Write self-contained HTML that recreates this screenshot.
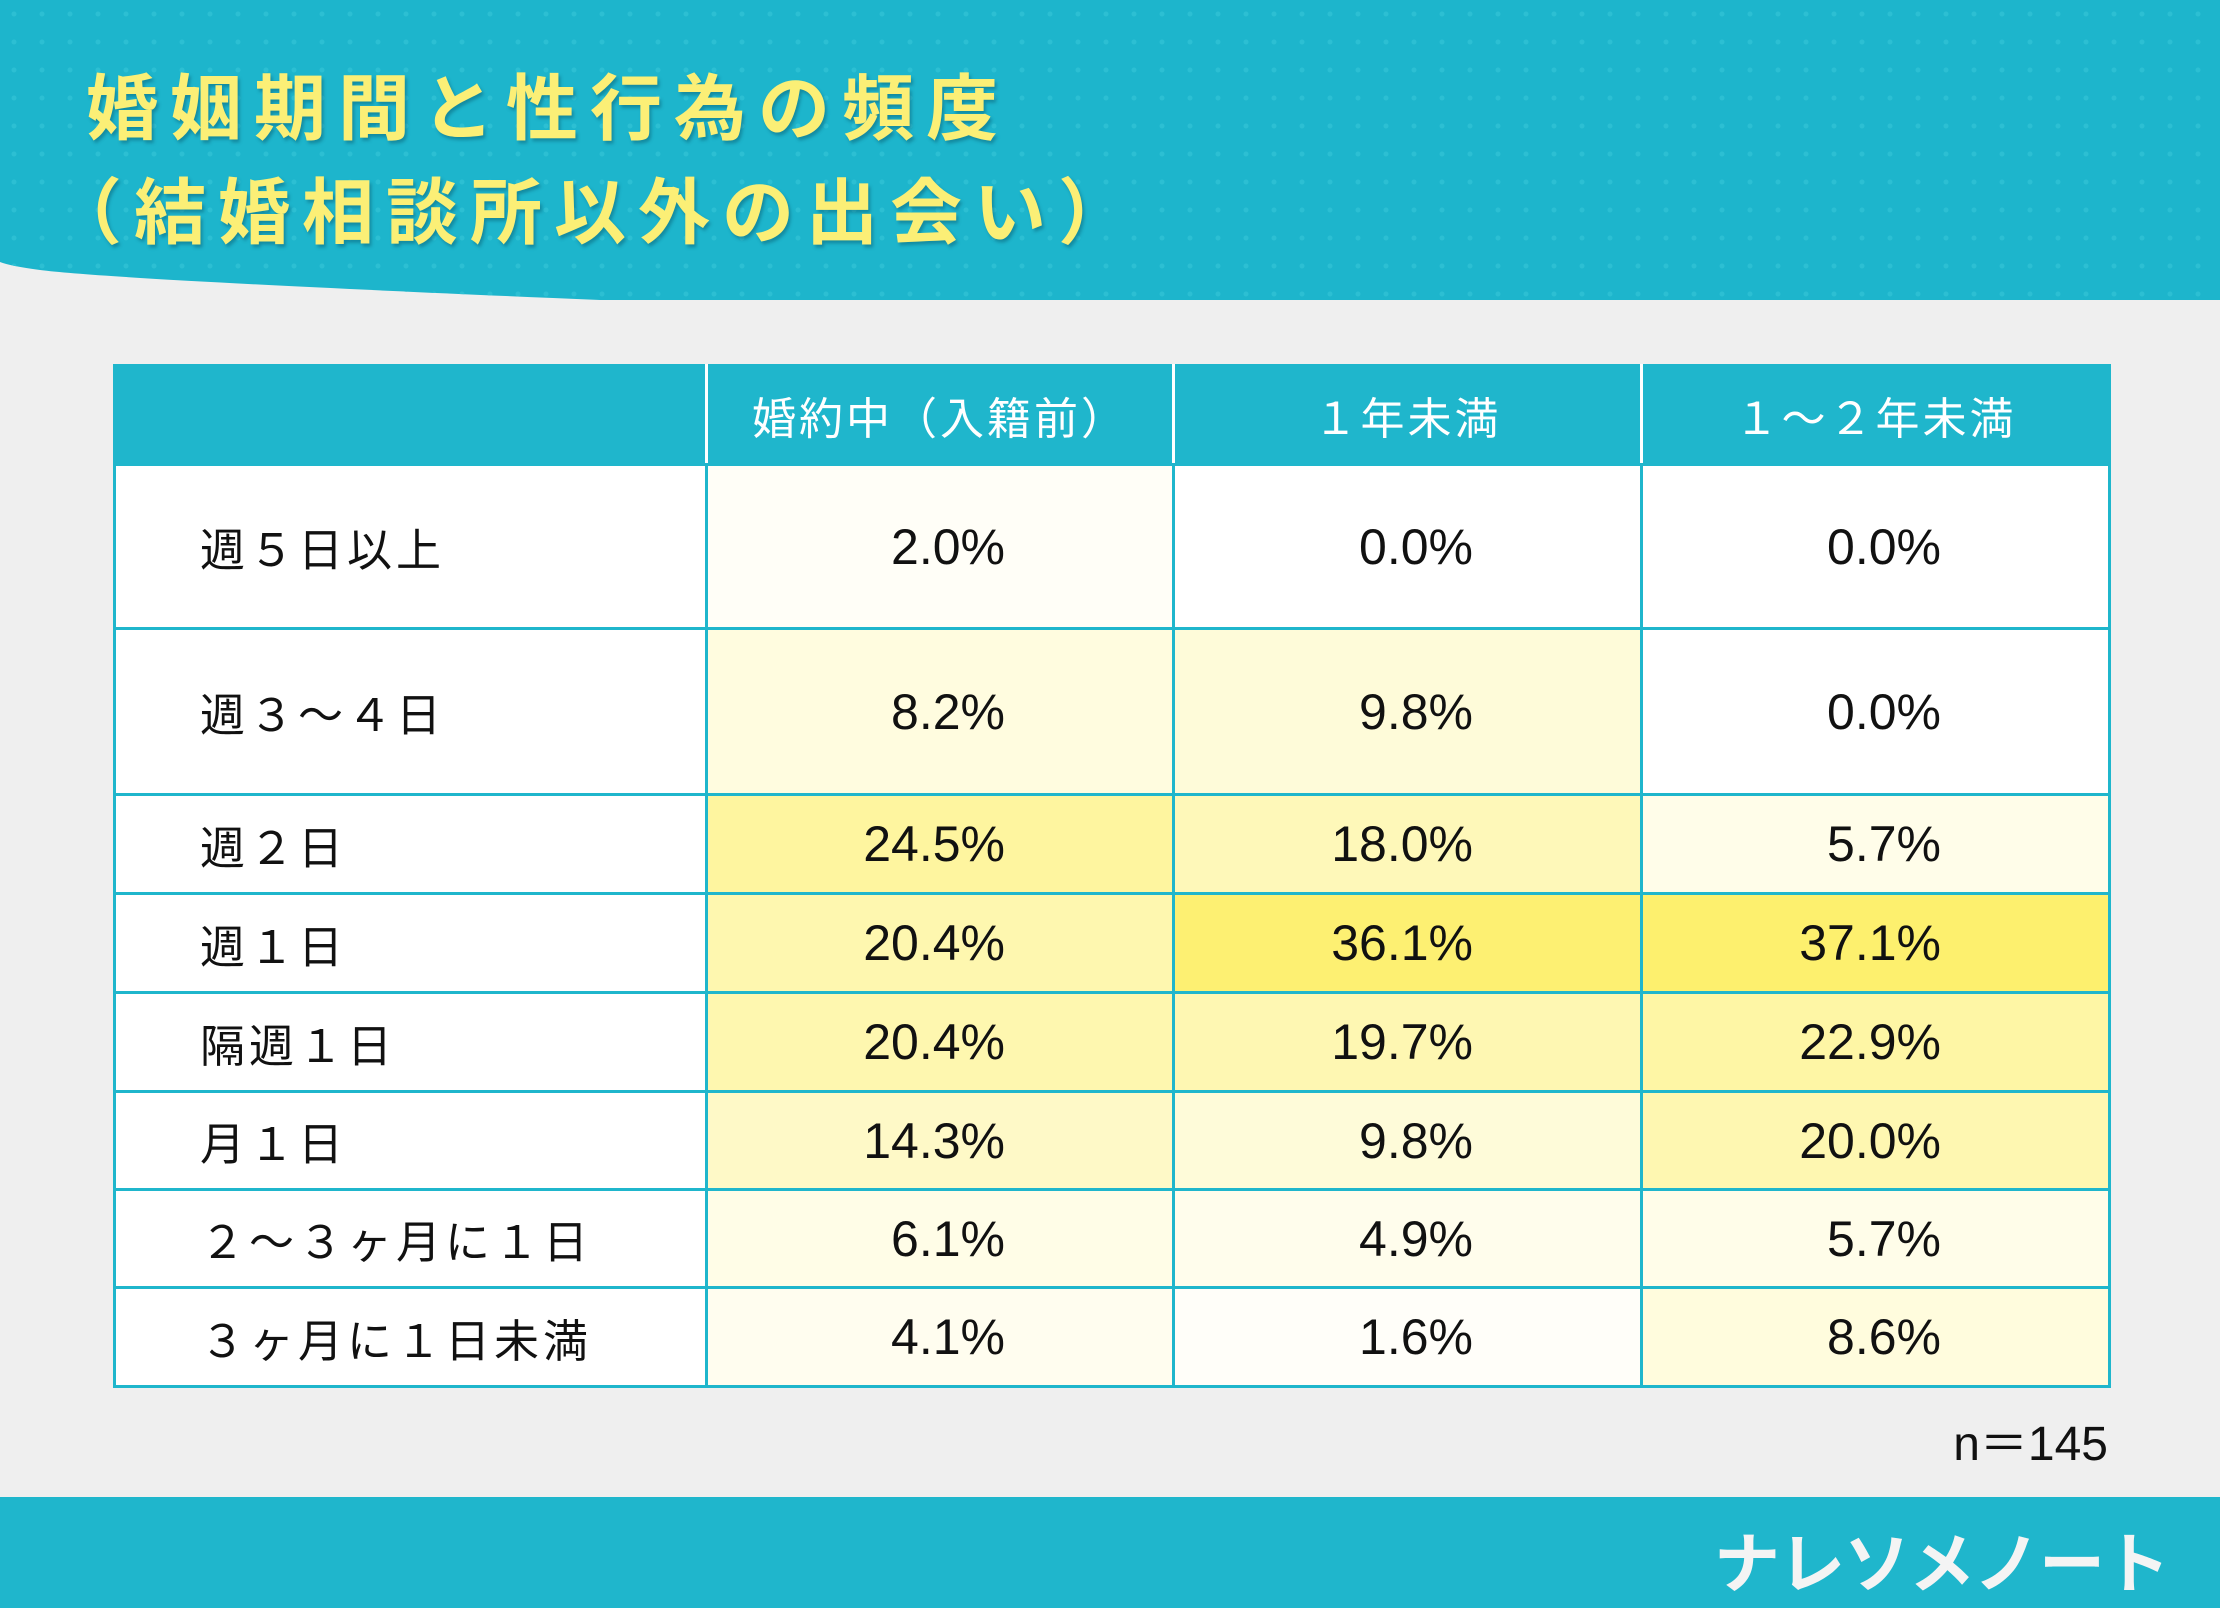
<!DOCTYPE html>
<html><head><meta charset="utf-8">
<style>
html,body{margin:0;padding:0}
body{width:2220px;height:1608px;position:relative;background:#efefef;overflow:hidden;font-family:"Liberation Sans","Noto Sans CJK JP",sans-serif}
#title{position:absolute;left:86px;top:58px;color:#fbef76;font-size:72px;font-weight:bold;line-height:104px;letter-spacing:12px;text-shadow:2px 3px 3px rgba(0,60,80,.35);margin:0;white-space:nowrap}
#title span{display:inline-block;margin-left:-36px}
table{position:absolute;left:113px;top:364px;border-collapse:collapse;table-layout:fixed}
td,th{border:3px solid #1fb6cc;padding:0;box-sizing:border-box}
th{background:#1fb6cc;color:#fff;font-weight:normal;font-size:44px;letter-spacing:3px;border-left-color:#fff;border-right-color:#fff}
th:first-child{border-left-color:#1fb6cc}
th:last-child{border-right-color:#1fb6cc}
td.lab{background:#fff;font-size:45px;letter-spacing:4px;padding-left:84px;text-align:left;color:#111}
td.val{font-size:50px;text-align:right;padding-right:167px;color:#111}
#n{position:absolute;right:112px;top:1404px;font-size:48px;color:#111}
#footer{position:absolute;left:0;top:1497px;width:2220px;height:111px;background:#1fb6cc}
#logo{position:absolute;right:51px;top:14px;color:#f4f4f4;font-size:66px;font-weight:bold;letter-spacing:-1px}
</style></head><body>
<svg style="position:absolute;left:0;top:0" width="2220" height="310">
<defs><pattern id="dots" width="28" height="28" patternUnits="userSpaceOnUse"><circle cx="14" cy="14" r="2.5" fill="#2cbfd3"/></pattern></defs>
<path d="M0 0 H2220 V300 L600 300 Q120 280 40 270 Q10 266 0 262 Z" fill="#1db5cc"/>
<path d="M0 0 H2220 V300 L600 300 Q120 280 40 270 Q10 266 0 262 Z" fill="url(#dots)"/>
</svg>
<h1 id="title">婚姻期間と性行為の頻度<br><span>（結婚相談所以外の出会い）</span></h1>
<table id="tbl"></table>
<div id="n">n＝145</div>
<div id="footer"><div id="logo">ナレソメノート</div></div>
<script>
const columns = ["婚約中（入籍前）","１年未満","１～２年未満"];
const rowLabels = ["週５日以上","週３～４日","週２日","週１日","隔週１日","月１日","２～３ヶ月に１日","３ヶ月に１日未満"];
const engaged = [2.0,8.2,24.5,20.4,20.4,14.3,6.1,4.1];
const under1 = [0.0,9.8,18.0,36.1,19.7,9.8,4.9,1.6];
const y1to2 = [0.0,0.0,5.7,37.1,22.9,20.0,5.7,8.6];
const series=[engaged,under1,y1to2];
const colW=[592,467,468,468];
const rowH=[99,164,166,99,99,99,98,98,99];
function heat(v){
  const t=Math.min(1,v/37.1);
  const r=Math.round(255-2*t), g=Math.round(255-15*t), b=Math.round(255-145*t);
  return `rgb(${r},${g},${b})`;
}
const tbl=document.getElementById('tbl');
const cg=document.createElement('colgroup');
colW.forEach(w=>{const c=document.createElement('col');c.style.width=w+'px';cg.appendChild(c);});
tbl.appendChild(cg);
const hr=document.createElement('tr');hr.style.height=rowH[0]+'px';
const corner=document.createElement('th');


hr.appendChild(corner);
columns.forEach(c=>{const th=document.createElement('th');th.textContent=c;


hr.appendChild(th);});
tbl.appendChild(hr);
rowLabels.forEach((lab,i)=>{
  const tr=document.createElement('tr');tr.style.height=rowH[i+1]+'px';
  
  
  const td=document.createElement('td');td.className='lab';td.textContent=lab;
  
  
  tr.appendChild(td);
  series.forEach(s=>{const c=document.createElement('td');c.className='val';
    c.textContent=s[i].toFixed(1)+'%';c.style.background=heat(s[i]);
    
    
    tr.appendChild(c);});
  tbl.appendChild(tr);
});
</script>
</body></html>
